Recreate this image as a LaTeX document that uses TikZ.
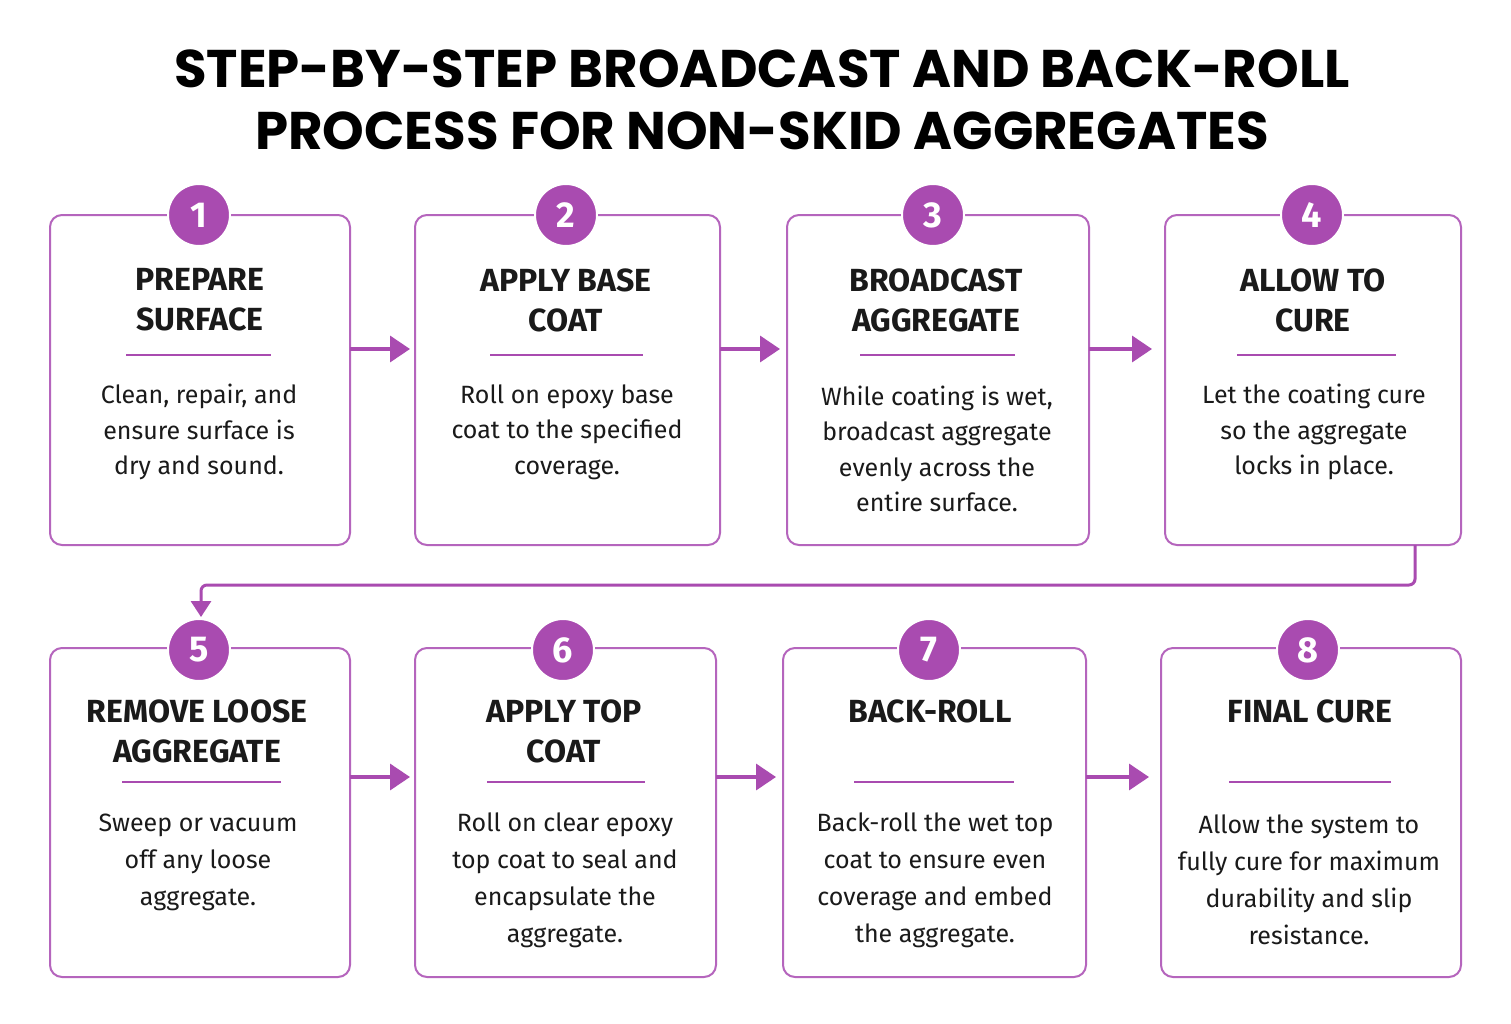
\documentclass[tikz,border=0pt]{standalone}
\usepackage{fontspec}
\setmainfont{Fira Sans}
\newfontfamily\titlefont{Poppins}
\usetikzlibrary{arrows.meta}
\definecolor{pur}{HTML}{A94BB0}
\definecolor{pborder}{HTML}{B565BD}
\definecolor{ink}{HTML}{1A1A1A}
\tikzset{
 card/.style={draw=pborder,line width=2pt,rounded corners=12pt,fill=white},
 badge/.style={circle,fill=pur,draw=white,line width=2pt,minimum size=62pt,inner sep=0pt,text=white,font=\fontsize{36}{36}\selectfont\bfseries},
 head/.style={font=\fontsize{32}{40}\selectfont\bfseries,text=ink,align=center},
 body/.style={font=\fontsize{25}{35.5}\selectfont,text=ink,align=center},
 conn/.style={draw=pur,line width=3.5pt,-{Triangle[length=20pt,width=26pt]}},
 rule/.style={draw=pur,line width=2.5pt}
}
\begin{document}
\begin{tikzpicture}[x=1pt,y=-1pt]
\useasboundingbox[fill=white] (0,0) rectangle (1511,1023);
\node[font=\titlefont\fontsize{53}{62}\selectfont\bfseries,align=center,text=black] (title) at (762,100) {STEP-BY-STEP BROADCAST AND BACK-ROLL\\PROCESS FOR NON-SKID AGGREGATES};
\draw[card] (50,215) rectangle (350,545);
\draw[card] (415,215) rectangle (720,545);
\draw[card] (787,215) rectangle (1089,545);
\draw[card] (1165,215) rectangle (1461,545);
\draw[card] (50,648) rectangle (350,977);
\draw[card] (415,648) rectangle (716,977);
\draw[card] (783,648) rectangle (1086,977);
\draw[card] (1161,648) rectangle (1461,977);
\node[badge] (n1) at (199,215) {1};
\node[badge] (n2) at (566,215) {2};
\node[badge] (n3) at (933,215) {3};
\node[badge] (n4) at (1312,215) {4};
\node[badge] (n5) at (199,650) {5};
\node[badge] (n6) at (563,650) {6};
\node[badge] (n7) at (929,650) {7};
\node[badge] (n8) at (1308,650) {8};
\node[head] (h1) at (200,300) {PREPARE\\SURFACE};
\node[head] (h2) at (566,300) {APPLY BASE\\COAT};
\node[head] (h3) at (936,300) {BROADCAST\\AGGREGATE};
\node[head] (h4) at (1313,300) {ALLOW TO\\CURE};
\node[head] (h5) at (197,731) {REMOVE LOOSE\\AGGREGATE};
\node[head] (h6) at (564,731) {APPLY TOP\\COAT};
\node[head] (h7) at (930,711) {BACK-ROLL};
\node[head] (h8) at (1310,711) {FINAL CURE};
\draw[rule] (126,355) -- (271,355);
\draw[rule] (490,355) -- (643,355);
\draw[rule] (860,355) -- (1015,355);
\draw[rule] (1237,355) -- (1396,355);
\draw[rule] (122,782) -- (281,782);
\draw[rule] (487,782) -- (645,782);
\draw[rule] (854,782) -- (1014,782);
\draw[rule] (1229,782) -- (1391,782);
\node[body] (t1) at (199,432) {Clean, repair, and\\ensure surface is\\dry and sound.};
\node[body] (t2) at (567,432) {Roll on epoxy base\\coat to the specified\\coverage.};
\node[body] (t3) at (937,449) {While coating is wet,\\broadcast aggregate\\evenly across the\\entire surface.};
\node[body] (t4) at (1314,432) {Let the coating cure\\so the aggregate\\locks in place.};
\node[body,font=\fontsize{25}{37}\selectfont] (t5) at (198,862) {Sweep or vacuum\\off any loose\\aggregate.};
\node[body,font=\fontsize{25}{37}\selectfont] (t6) at (565,880) {Roll on clear epoxy\\top coat to seal and\\encapsulate the\\aggregate.};
\node[body,font=\fontsize{25}{37}\selectfont] (t7) at (935,880) {Back-roll the wet top\\coat to ensure even\\coverage and embed\\the aggregate.};
\node[body,font=\fontsize{25}{37}\selectfont] (t8) at (1309,880) {Allow the system to\\fully cure for maximum\\durability and slip\\resistance.};
\coordinate (a1s) at (350,349); \coordinate (a1e) at (410,349);
\coordinate (a2s) at (720,349); \coordinate (a2e) at (780,349);
\coordinate (a3s) at (1089,349); \coordinate (a3e) at (1152,349);
\coordinate (a5s) at (350,777); \coordinate (a5e) at (410,777);
\coordinate (a6s) at (716,777); \coordinate (a6e) at (776,777);
\coordinate (a7s) at (1086,777); \coordinate (a7e) at (1149,777);
\draw[conn] (a1s) -- (a1e);
\draw[conn] (a2s) -- (a2e);
\draw[conn] (a3s) -- (a3e);
\draw[conn] (a5s) -- (a5e);
\draw[conn] (a6s) -- (a6e);
\draw[conn] (a7s) -- (a7e);
\coordinate (w0) at (1415,545); \coordinate (w1) at (201,617);
\draw[draw=pur,line width=3pt,-{Triangle[length=16pt,width=20pt]},rounded corners=6pt] (w0) |- (800,585) -| (w1);
\end{tikzpicture}
\end{document}
